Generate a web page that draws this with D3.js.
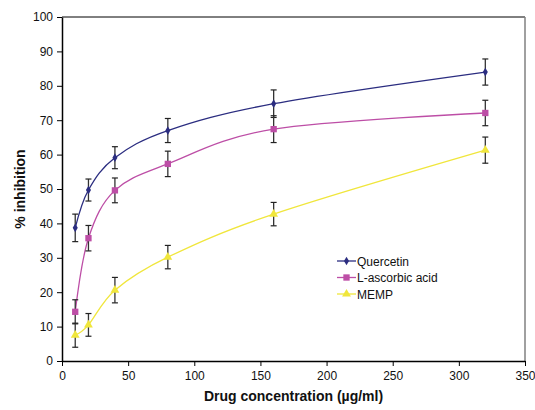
<!DOCTYPE html>
<html>
<head>
<meta charset="utf-8">
<script src="https://cdn.jsdelivr.net/npm/d3@7"></script>
<style>
  body { margin: 0; background: #fff; }
  svg { display: block; font-family: 'Liberation Sans', Arial, sans-serif; }
</style>
</head>
<body>
<div id="chart"></div>
<script>
// concentrations (µg/ml)
const concentrations = [10, 20, 40, 80, 160, 320];

// % inhibition
const quercetin = [38.7, 49.7, 59.1, 67.0, 74.8, 84.0];
const ascorbic = [14.3, 35.7, 49.6, 57.3, 67.4, 72.1];
const memp = [7.5, 10.5, 20.6, 30.2, 42.7, 61.3];

// error bar half-widths
const quercetinErr = [4.0, 3.2, 3.2, 3.5, 4.0, 3.8];
const ascorbicErr = [3.5, 3.7, 3.6, 3.7, 3.9, 3.7];
const mempErr = [3.5, 3.3, 3.7, 3.4, 3.4, 3.8];

const seriesNames = ['Quercetin', 'L-ascorbic acid', 'MEMP'];
const xTicks = [0, 50, 100, 150, 200, 250, 300, 350];
const yTicks = [0, 10, 20, 30, 40, 50, 60, 70, 80, 90, 100];

const width = 535;
const height = 410;
const margin = { top: 17, right: 10, bottom: 49, left: 62 };

const series = [
    { name: seriesNames[0], values: quercetin, err: quercetinErr, color: '#2b2d80', marker: 'diamond' },
    { name: seriesNames[1], values: ascorbic, err: ascorbicErr, color: '#bd4ea6', marker: 'square' },
    { name: seriesNames[2], values: memp, err: mempErr, color: '#f0e63c', marker: 'triangle' },
];

const svg = d3.select('#chart').append('svg')
    .attr('width', width)
    .attr('height', height);

const x = d3.scaleLinear().domain([0, 350]).range([margin.left, width - margin.right]);
const y = d3.scaleLinear().domain([0, 100]).range([height - margin.bottom, margin.top]);

// plot frame: top black, right grey
svg.append('line')
    .attr('x1', x(0)).attr('x2', x(350))
    .attr('y1', y(100)).attr('y2', y(100))
    .attr('stroke', '#000').attr('stroke-width', 1);
svg.append('line')
    .attr('x1', x(350)).attr('x2', x(350))
    .attr('y1', y(100)).attr('y2', y(0))
    .attr('stroke', '#808080').attr('stroke-width', 1.5);

// axes
const xAxis = svg.append('g')
    .attr('transform', `translate(0,${y(0)})`)
    .call(d3.axisBottom(x).tickValues(xTicks).tickSize(5).tickSizeOuter(0).tickPadding(5));
const yAxis = svg.append('g')
    .attr('transform', `translate(${x(0)},0)`)
    .call(d3.axisLeft(y).tickValues(yTicks).tickSize(5).tickSizeOuter(0).tickPadding(4));

[xAxis, yAxis].forEach((g) => {
    g.select('.domain').attr('stroke', '#000').attr('stroke-width', 1.5);
    g.selectAll('.tick line').attr('stroke', '#000').attr('stroke-width', 1);
    g.selectAll('.tick text')
        .attr('fill', '#111')
        .attr('font-size', '12px')
        .attr('font-family', "'Liberation Sans', Arial, sans-serif");
});

// axis titles
svg.append('text')
    .attr('x', (x(0) + x(350)) / 2)
    .attr('y', 401)
    .attr('text-anchor', 'middle')
    .attr('font-size', '14px')
    .attr('font-weight', 'bold')
    .attr('fill', '#111')
    .text('Drug concentration (µg/ml)');

svg.append('text')
    .attr('transform', `translate(25,${(y(0) + y(100)) / 2}) rotate(-90)`)
    .attr('text-anchor', 'middle')
    .attr('font-size', '14px')
    .attr('font-weight', 'bold')
    .attr('fill', '#111')
    .text('% inhibition');

const symbolFor = (m) => {
    if (m === 'diamond') return d3.symbol().type(d3.symbolDiamond).size(22);
    if (m === 'square') return d3.symbol().type(d3.symbolSquare).size(40);
    return d3.symbol().type(d3.symbolTriangle).size(34);
};

const line = d3.line()
    .x((d) => x(d[0]))
    .y((d) => y(d[1]))
    .curve(d3.curveCardinal.tension(0));

// smoothed lines
series.forEach((s) => {
    const pts = concentrations.map((c, i) => [c, s.values[i]]);
    svg.append('path')
        .datum(pts)
        .attr('fill', 'none')
        .attr('stroke', s.color)
        .attr('stroke-width', 1.3)
        .attr('d', line);
});

// error bars
series.forEach((s) => {
    const g = svg.append('g');
    concentrations.forEach((c, i) => {
        const cx = x(c);
        const y1 = y(s.values[i] + s.err[i]);
        const y2 = y(s.values[i] - s.err[i]);
        g.append('line').attr('x1', cx).attr('x2', cx).attr('y1', y1).attr('y2', y2)
            .attr('stroke', '#333').attr('stroke-width', 1.3);
        [y1, y2].forEach((yy) => {
            g.append('line').attr('x1', cx - 3).attr('x2', cx + 3).attr('y1', yy).attr('y2', yy)
                .attr('stroke', '#222').attr('stroke-width', 1.2);
        });
    });
});

// markers
series.forEach((s) => {
    svg.append('g')
        .selectAll('path')
        .data(concentrations.map((c, i) => [c, s.values[i]]))
        .join('path')
        .attr('transform', (d) => `translate(${x(d[0])},${y(d[1])})`)
        .attr('d', symbolFor(s.marker)())
        .attr('fill', s.color);
});

// legend
const legend = svg.append('g').attr('transform', 'translate(337,261)');
series.forEach((s, i) => {
    const row = legend.append('g').attr('transform', `translate(0,${i * 16.5})`);
    row.append('line').attr('x1', 0).attr('x2', 19).attr('y1', 0).attr('y2', 0)
        .attr('stroke', s.color).attr('stroke-width', 1.3);
    row.append('path')
        .attr('transform', 'translate(9.5,0)')
        .attr('d', symbolFor(s.marker)())
        .attr('fill', s.color);
    row.append('text')
        .attr('x', 20)
        .attr('y', 4.5)
        .attr('font-size', '12px')
        .attr('fill', '#111')
        .text(s.name);
});
</script>
</body>
</html>
